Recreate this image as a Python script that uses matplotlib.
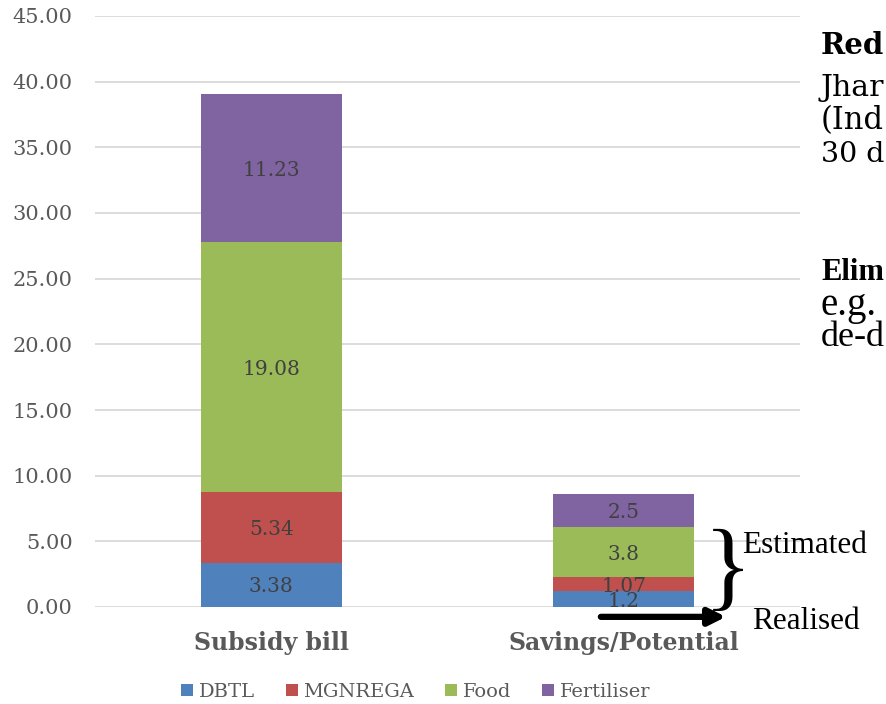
import matplotlib
matplotlib.use("Agg")
import matplotlib.pyplot as plt
import numpy as np

categories = ["Subsidy bill", "Savings/Potential"]
series_names = ["DBTL", "MGNREGA", "Food", "Fertiliser"]
dbtl = [3.38, 1.2]
mgnrega = [5.34, 1.07]
food = [19.08, 3.8]
fertiliser = [11.23, 2.5]
label_text = [["3.38", "1.2"], ["5.34", "1.07"], ["19.08", "3.8"], ["11.23", "2.5"]]
yticks = [0, 5, 10, 15, 20, 25, 30, 35, 40, 45]

colors = ["#4f81bd", "#c0504d", "#9bbb59", "#8064a2"]
serif_g = ["DejaVu Serif"]
serif_t = ["Liberation Serif"]

fig = plt.figure(figsize=(8.87, 7.04), dpi=100)
ax = fig.add_axes([95/887, 97/704, 705/887, 591/704])

x = np.arange(len(categories))
bottom = np.zeros(len(categories))
for i, (name, vals) in enumerate(zip(series_names, [dbtl, mgnrega, food, fertiliser])):
    bars = ax.bar(x, vals, 0.4, bottom=bottom, color=colors[i], label=name, zorder=3)
    for j, b in enumerate(bars):
        ax.text(b.get_x() + b.get_width()/2, bottom[j] + vals[j]/2 - 0.15, label_text[i][j],
                ha="center", va="center", fontsize=14.5, color="#404040", family=serif_g, zorder=4)
    bottom += np.array(vals)

ax.set_xlim(-0.5, 1.5)
ax.set_ylim(0, 45)
ax.set_yticks(yticks)
ax.set_yticklabels([f"{v:.2f}" for v in yticks], family=serif_g, fontsize=15, color="#595959")
ax.set_xticks(x)
ax.set_xticklabels(categories, family=serif_g, fontsize=17, fontweight="bold", color="#595959")
ax.tick_params(axis="both", length=0)
ax.tick_params(axis="y", pad=16)
ax.tick_params(axis="x", pad=17)
ax.grid(axis="y", color="#d9d9d9", linewidth=1.3, zorder=0)
for s in ax.spines.values():
    s.set_visible(False)

leg = ax.legend(loc="upper center", bbox_to_anchor=(0.455, -0.109), ncol=4, frameon=False,
                prop={"family": serif_g, "size": 14}, handlelength=0.6, handleheight=0.6,
                handletextpad=0.3, columnspacing=1.6, borderaxespad=0.2)
for t in leg.get_texts():
    t.set_color("#595959")

# annotations
ax.annotate("", xy=(1.29, -0.75), xytext=(0.935, -0.75),
            arrowprops=dict(arrowstyle="-|>,head_width=0.5,head_length=1.0", lw=4.5, color="black",
                            shrinkA=0, shrinkB=0), annotation_clip=False)
ax.text(1.296, 2.5, "}", fontsize=72, family=serif_t, ha="center", va="center", color="black", clip_on=False)
ax.text(1.335, 4.7, "Estimated", fontsize=22.5, family=serif_t, ha="left", va="center", clip_on=False)
ax.text(1.364, -1.1, "Realised", fontsize=22.5, family=serif_t, ha="left", va="center", clip_on=False)

# right-side slide text (only the part visible in the slide crop)
side = [
    ("Red", 45, serif_g, "bold", 24),
    ("Jhar", 88, serif_g, "normal", 24),
    ("(Ind", 121, serif_g, "normal", 24),
    ("30 d", 155, serif_g, "normal", 24),
    ("Elim", 272, serif_t, "bold", 28),
    ("e.g.", 306, serif_t, "normal", 28),
    ("de-d", 338, serif_t, "normal", 28),
]
fig.canvas.draw()
renderer = fig.canvas.get_renderer()
for txt, ypix, fam, wt, fs in side:
    t = fig.text(821/887, 1 - ypix/704, txt, fontsize=fs, family=fam, fontweight=wt, ha="left", va="center")
    ext = t.get_window_extent(renderer)
    while ext.x1 > 885 and fs > 8:
        fs -= 0.5
        t.set_fontsize(fs)
        ext = t.get_window_extent(renderer)

fig.savefig("out.png", dpi=100)
